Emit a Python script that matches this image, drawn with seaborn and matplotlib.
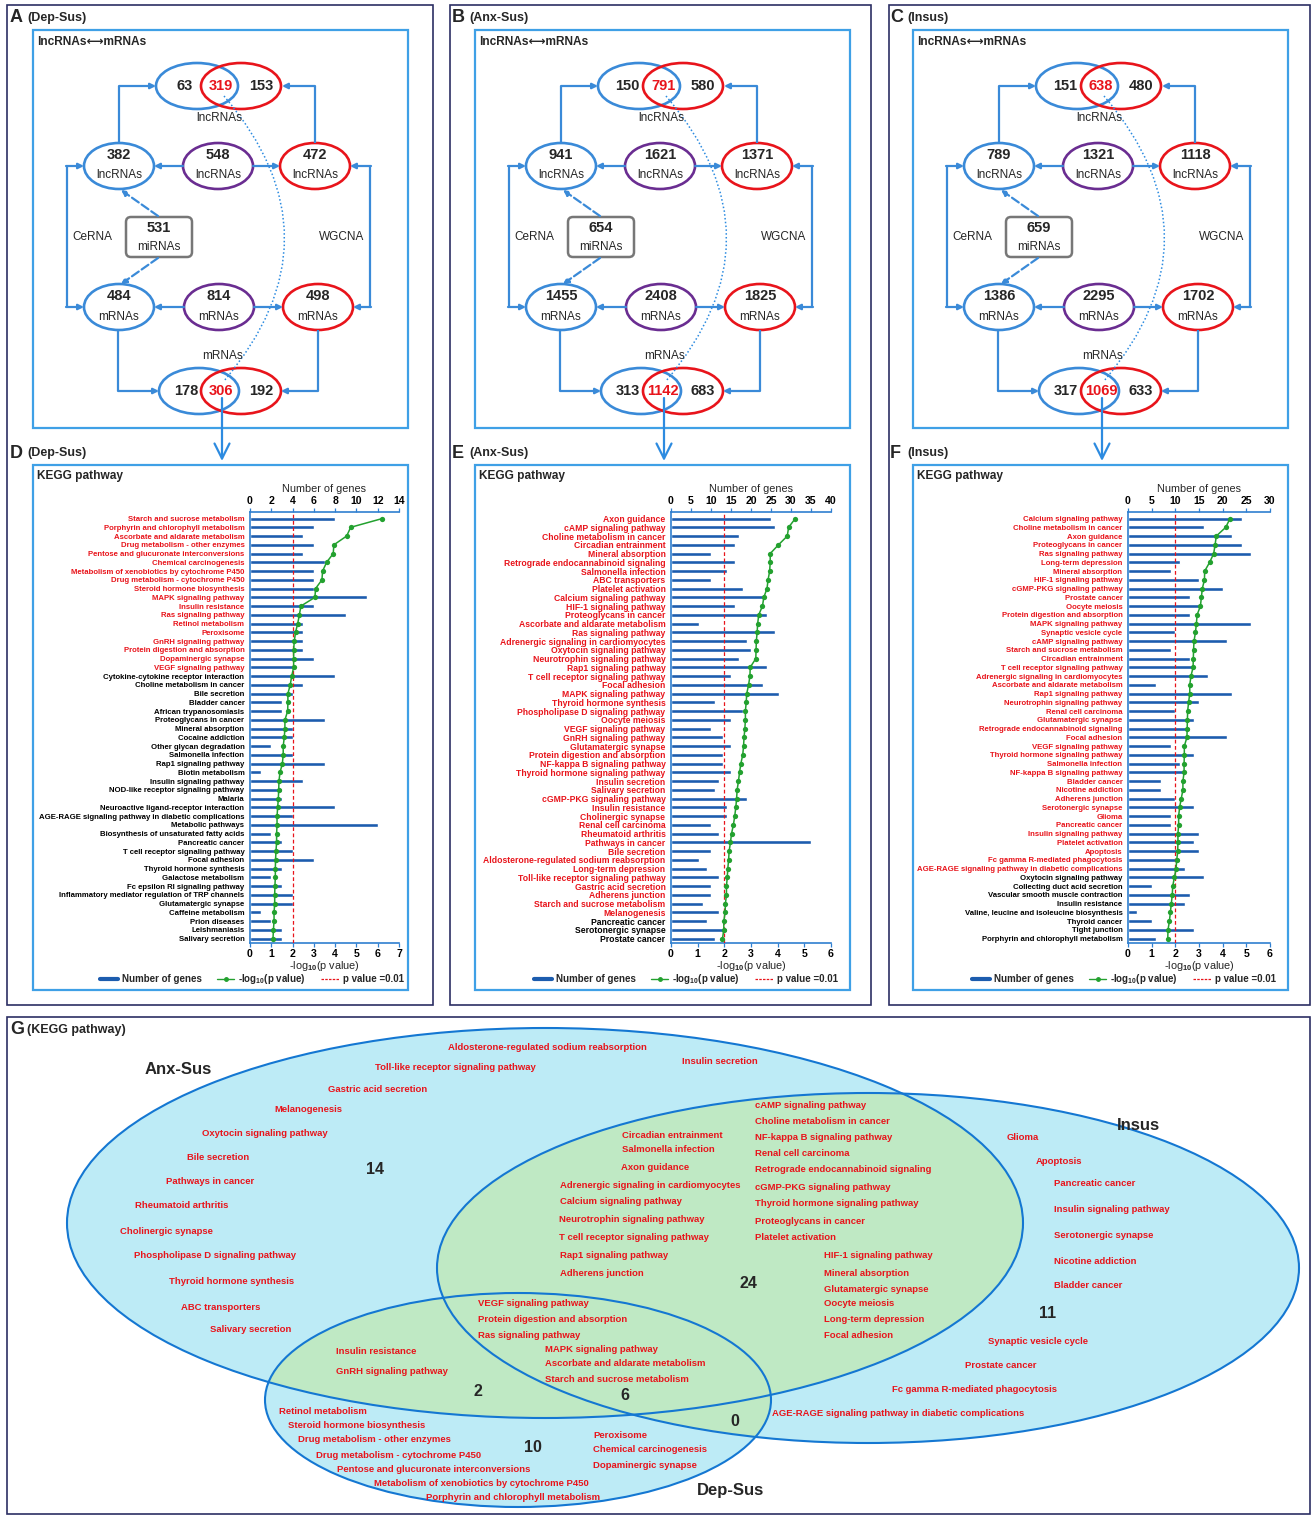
import numpy as np
import pandas as pd
import matplotlib
matplotlib.use("Agg")
import matplotlib.pyplot as plt
import seaborn as sns
from matplotlib.patches import Ellipse, Rectangle, FancyBboxPatch, PathPatch
from matplotlib.path import Path
from matplotlib.lines import Line2D

# ---------------------------------------------------------------- data
net_A = [63, 319, 153, 382, 548, 472, 531, 484, 814, 498, 178, 306, 192]
net_B = [150, 791, 580, 941, 1621, 1371, 654, 1455, 2408, 1825, 313, 1142, 683]
net_C = [151, 638, 480, 789, 1321, 1118, 659, 1386, 2295, 1702, 317, 1069, 633]

d_terms = ["Starch and sucrose metabolism", "Porphyrin and chlorophyll metabolism",
           "Ascorbate and aldarate metabolism", "Drug metabolism - other enzymes",
           "Pentose and glucuronate interconversions", "Chemical carcinogenesis",
           "Metabolism of xenobiotics by cytochrome P450", "Drug metabolism - cytochrome P450",
           "Steroid hormone biosynthesis", "MAPK signaling pathway", "Insulin resistance",
           "Ras signaling pathway", "Retinol metabolism", "Peroxisome", "GnRH signaling pathway",
           "Protein digestion and absorption", "Dopaminergic synapse", "VEGF signaling pathway",
           "Cytokine-cytokine receptor interaction", "Choline metabolism in cancer",
           "Bile secretion", "Bladder cancer", "African trypanosomiasis", "Proteoglycans in cancer",
           "Mineral absorption", "Cocaine addiction", "Other glycan degradation",
           "Salmonella infection", "Rap1 signaling pathway", "Biotin metabolism",
           "Insulin signaling pathway", "NOD-like receptor signaling pathway", "Malaria",
           "Neuroactive ligand-receptor interaction",
           "AGE-RAGE signaling pathway in diabetic complications", "Metabolic pathways",
           "Biosynthesis of unsaturated fatty acids", "Pancreatic cancer",
           "T cell receptor signaling pathway", "Focal adhesion", "Thyroid hormone synthesis",
           "Galactose metabolism", "Fc epsilon RI signaling pathway",
           "Inflammatory mediator regulation of TRP channels", "Glutamatergic synapse",
           "Caffeine metabolism", "Prion diseases", "Leishmaniasis", "Salivary secretion"]
d_genes = [8, 6, 5, 6, 5, 7, 6, 6, 6, 11, 6, 9, 5, 5, 5, 5, 6, 4, 8, 5, 4, 3, 3, 7, 4,
           4, 2, 4, 7, 1, 5, 3, 3, 8, 4, 12, 2, 3, 4, 6, 3, 2, 3, 4, 4, 1, 2, 3, 3]
d_logp = [6.21, 4.73, 4.54, 3.94, 3.91, 3.60, 3.41, 3.38, 3.08, 3.05,
          2.39, 2.32, 2.24, 2.14, 2.08, 2.05, 2.05, 2.05, 1.96, 1.89,
          1.78, 1.78, 1.77, 1.64, 1.64, 1.61, 1.56, 1.56, 1.52, 1.41,
          1.36, 1.35, 1.33, 1.30, 1.27, 1.27, 1.25, 1.25, 1.22, 1.20,
          1.19, 1.19, 1.17, 1.16, 1.16, 1.13, 1.13, 1.10, 1.08]
d_n_red = 18

e_terms = ["Axon guidance", "cAMP signaling pathway", "Choline metabolism in cancer",
           "Circadian entrainment", "Mineral absorption", "Retrograde endocannabinoid signaling",
           "Salmonella infection", "ABC transporters", "Platelet activation",
           "Calcium signaling pathway", "HIF-1 signaling pathway", "Proteoglycans in cancer",
           "Ascorbate and aldarate metabolism", "Ras signaling pathway",
           "Adrenergic signaling in cardiomyocytes", "Oxytocin signaling pathway",
           "Neurotrophin signaling pathway", "Rap1 signaling pathway",
           "T cell receptor signaling pathway", "Focal adhesion", "MAPK signaling pathway",
           "Thyroid hormone synthesis", "Phospholipase D signaling pathway", "Oocyte meiosis",
           "VEGF signaling pathway", "GnRH signaling pathway", "Glutamatergic synapse",
           "Protein digestion and absorption", "NF-kappa B signaling pathway",
           "Thyroid hormone signaling pathway", "Insulin secretion", "Salivary secretion",
           "cGMP-PKG signaling pathway", "Insulin resistance", "Cholinergic synapse",
           "Renal cell carcinoma", "Rheumatoid arthritis", "Pathways in cancer", "Bile secretion",
           "Aldosterone-regulated sodium reabsorption", "Long-term depression",
           "Toll-like receptor signaling pathway", "Gastric acid secretion", "Adherens junction",
           "Starch and sucrose metabolism", "Melanogenesis", "Pancreatic cancer",
           "Serotonergic synapse", "Prostate cancer"]
e_genes = [25, 26, 17, 16, 10, 16, 14, 10, 18, 23, 16, 24, 7, 26, 19, 20, 17, 24, 15, 23,
           27, 11, 18, 15, 10, 13, 15, 13, 13, 15, 12, 11, 19, 14, 14, 10, 12, 35, 10, 7,
           9, 12, 10, 10, 8, 12, 9, 14, 11]
e_logp = [4.66, 4.41, 4.36, 4.03, 3.72, 3.72, 3.70, 3.64, 3.60, 3.48,
          3.43, 3.29, 3.25, 3.23, 3.20, 3.19, 3.18, 2.97, 2.96, 2.91,
          2.84, 2.82, 2.79, 2.79, 2.77, 2.74, 2.72, 2.69, 2.62, 2.57,
          2.53, 2.48, 2.46, 2.43, 2.39, 2.34, 2.27, 2.23, 2.18, 2.16,
          2.13, 2.11, 2.08, 2.08, 2.04, 2.03, 1.98, 1.98, 1.93]
e_n_red = 46

f_terms = ["Calcium signaling pathway", "Choline metabolism in cancer", "Axon guidance",
           "Proteoglycans in cancer", "Ras signaling pathway", "Long-term depression",
           "Mineral absorption", "HIF-1 signaling pathway", "cGMP-PKG signaling pathway",
           "Prostate cancer", "Oocyte meiosis", "Protein digestion and absorption",
           "MAPK signaling pathway", "Synaptic vesicle cycle", "cAMP signaling pathway",
           "Starch and sucrose metabolism", "Circadian entrainment",
           "T cell receptor signaling pathway", "Adrenergic signaling in cardiomyocytes",
           "Ascorbate and aldarate metabolism", "Rap1 signaling pathway",
           "Neurotrophin signaling pathway", "Renal cell carcinoma", "Glutamatergic synapse",
           "Retrograde endocannabinoid signaling", "Focal adhesion", "VEGF signaling pathway",
           "Thyroid hormone signaling pathway", "Salmonella infection",
           "NF-kappa B signaling pathway", "Bladder cancer", "Nicotine addiction",
           "Adherens junction", "Serotonergic synapse", "Glioma", "Pancreatic cancer",
           "Insulin signaling pathway", "Platelet activation", "Apoptosis",
           "Fc gamma R-mediated phagocytosis",
           "AGE-RAGE signaling pathway in diabetic complications", "Oxytocin signaling pathway",
           "Collecting duct acid secretion", "Vascular smooth muscle contraction",
           "Insulin resistance", "Valine, leucine and isoleucine biosynthesis", "Thyroid cancer",
           "Tight junction", "Porphyrin and chlorophyll metabolism"]
f_genes = [24, 16, 22, 24, 26, 11, 9, 15, 20, 13, 15, 13, 26, 10, 21, 9, 13, 14, 17, 6,
           22, 15, 10, 14, 13, 21, 9, 14, 11, 12, 7, 7, 10, 14, 9, 9, 15, 14, 15, 11,
           12, 16, 5, 13, 12, 2, 5, 14, 6]
f_logp = [4.31, 4.13, 3.73, 3.68, 3.62, 3.45, 3.24, 3.23, 3.14, 3.10,
          3.06, 2.92, 2.89, 2.85, 2.79, 2.77, 2.76, 2.75, 2.66, 2.61,
          2.61, 2.56, 2.52, 2.51, 2.50, 2.49, 2.38, 2.38, 2.37, 2.37,
          2.32, 2.32, 2.25, 2.18, 2.14, 2.14, 2.11, 2.11, 2.10, 2.06,
          2.03, 1.96, 1.89, 1.87, 1.83, 1.79, 1.75, 1.69, 1.68]
f_n_red = 41

venn_anx_only = ["Aldosterone-regulated sodium reabsorption", "Toll-like receptor signaling pathway",
                 "Gastric acid secretion", "Melanogenesis", "Oxytocin signaling pathway",
                 "Bile secretion", "Pathways in cancer", "Rheumatoid arthritis",
                 "Cholinergic synapse", "Phospholipase D signaling pathway",
                 "Thyroid hormone synthesis", "ABC transporters", "Salivary secretion",
                 "Insulin secretion"]
venn_anx_ins = ["Circadian entrainment", "Salmonella infection", "Axon guidance",
                "Adrenergic signaling in cardiomyocytes", "Calcium signaling pathway",
                "Neurotrophin signaling pathway", "T cell receptor signaling pathway",
                "Rap1 signaling pathway", "Adherens junction",
                "cAMP signaling pathway", "Choline metabolism in cancer",
                "NF-kappa B signaling pathway", "Renal cell carcinoma",
                "Retrograde endocannabinoid signaling", "cGMP-PKG signaling pathway",
                "Thyroid hormone signaling pathway", "Proteoglycans in cancer",
                "Platelet activation",
                "HIF-1 signaling pathway", "Mineral absorption", "Glutamatergic synapse",
                "Oocyte meiosis", "Long-term depression", "Focal adhesion"]
venn_all = ["VEGF signaling pathway", "Protein digestion and absorption", "Ras signaling pathway",
            "MAPK signaling pathway", "Ascorbate and aldarate metabolism",
            "Starch and sucrose metabolism"]
venn_anx_dep = ["Insulin resistance", "GnRH signaling pathway"]
venn_dep_only = ["Retinol metabolism", "Steroid hormone biosynthesis",
                 "Drug metabolism - other enzymes", "Drug metabolism - cytochrome P450",
                 "Pentose and glucuronate interconversions",
                 "Metabolism of xenobiotics by cytochrome P450",
                 "Porphyrin and chlorophyll metabolism", "Peroxisome",
                 "Chemical carcinogenesis", "Dopaminergic synapse"]
venn_ins_only = ["Glioma", "Apoptosis", "Pancreatic cancer", "Insulin signaling pathway",
                 "Serotonergic synapse", "Nicotine addiction", "Bladder cancer",
                 "Synaptic vesicle cycle", "Prostate cancer", "Fc gamma R-mediated phagocytosis",
                 "AGE-RAGE signaling pathway in diabetic complications"]
venn_counts = {"anx": 14, "anx_ins": 24, "ins": 11, "anx_dep": 2, "all": 6, "dep_ins": 0, "dep": 10}

# ---------------------------------------------------------------- layout
anx_pos = [(448, 1047), (375, 1068), (328, 1089), (274, 1110), (202, 1133), (187, 1157),
           (166, 1181), (135, 1206), (120, 1231), (134, 1255), (169, 1282), (181, 1307),
           (210, 1330), (682, 1061)]
anx_ins_pos = [(622, 1135), (622, 1150), (621, 1168), (560, 1186), (560, 1202), (559, 1220),
               (559, 1238), (560, 1256), (560, 1273),
               (755, 1105), (755, 1121), (755, 1138), (755, 1154), (755, 1170), (755, 1187),
               (755, 1203), (755, 1221), (755, 1238),
               (824, 1256), (824, 1273), (824, 1289), (824, 1304), (824, 1320), (824, 1335)]
all_pos = [(478, 1303), (478, 1319), (478, 1335), (545, 1350), (545, 1364), (545, 1379)]
anx_dep_pos = [(336, 1351), (336, 1371)]
dep_pos = [(279, 1411), (288, 1426), (298, 1440), (316, 1455), (337, 1469), (374, 1483),
           (426, 1497), (593, 1435), (593, 1450), (593, 1465)]
ins_pos = [(1007, 1137), (1036, 1161), (1054, 1183), (1054, 1210), (1054, 1235),
           (1054, 1261), (1054, 1285), (988, 1341), (965, 1366), (892, 1389), (772, 1414)]
count_pos = {"anx": (375, 1170), "anx_ins": (748, 1283), "ins": (1048, 1314),
             "anx_dep": (478, 1392), "all": (625, 1396), "dep_ins": (735, 1422), "dep": (533, 1447)}

W, H = 1312, 1516
sns.set_theme(style="white")
plt.rcParams["font.family"] = ["Liberation Sans", "DejaVu Sans"]
plt.rcParams["font.weight"] = "bold"
plt.rcParams["mathtext.fontset"] = "custom"
plt.rcParams["mathtext.rm"] = "Liberation Sans:bold"
plt.rcParams["mathtext.default"] = "rm"

BLUE = "#3a8ad8"
NAVY = "#2c2f63"
RED = "#e8141b"
PURPLE = "#6a2d91"
BAR = "#1c5cae"
GREEN = "#23a12f"
AXB = "#2f7fd0"

fig = plt.figure(figsize=(W / 100, H / 100), dpi=100)
fig.patch.set_facecolor("white")
bg = fig.add_axes([0, 0, 1, 1])
bg.set_xlim(0, W)
bg.set_ylim(H, 0)
bg.axis("off")


def box(x0, y0, x1, y1, color, lw):
    bg.add_patch(Rectangle((x0, y0), x1 - x0, y1 - y0, fill=False, ec=color, lw=lw))


def arrow(p0, p1, ls="-", style="-|>", ms=8, lw=1.6):
    bg.annotate("", xy=p1, xytext=p0,
                arrowprops=dict(arrowstyle=style, color=BLUE, lw=lw, ls=ls,
                                mutation_scale=ms, shrinkA=0, shrinkB=0))


def line(pts):
    xs, ys = zip(*pts)
    bg.plot(xs, ys, color=BLUE, lw=1.6, solid_capstyle="butt")


# outer frames
for x0, x1 in [(7, 433), (450, 871), (889, 1310)]:
    box(x0, 5, x1, 1005, NAVY, 1.2)
box(7, 1017, 1310, 1514, NAVY, 1.2)

panels = [("A", "(Dep-Sus)", "D", 0, net_A), ("B", "(Anx-Sus)", "E", 442, net_B),
          ("C", "(Insus)", "F", 880, net_C)]


def network(ox, v):
    X = lambda x: x + ox
    box(X(33), 30, X(408), 428, "#3fa0e6", 1.6)
    box(X(33), 465, X(408), 990, "#3fa0e6", 1.6)
    bg.text(X(37), 42, "lncRNAs\u27f7mRNAs", fontsize=8.6, va="center", ha="left")
    bg.text(X(37), 476, "KEGG pathway", fontsize=8.6, va="center", ha="left")
    ek = dict(fill=False, lw=1.9)
    # top venn
    bg.add_patch(Ellipse((X(197), 86), 82, 46, ec=BLUE, **ek))
    bg.add_patch(Ellipse((X(241), 86), 80, 46, ec=RED, **ek))
    # row ellipses
    for cx, cy, col in [(119, 166, BLUE), (218, 166, PURPLE), (315, 166, RED),
                        (119, 307, BLUE), (219, 307, PURPLE), (318, 307, RED)]:
        bg.add_patch(Ellipse((X(cx), cy), 70, 46, ec=col, **ek))
    # bottom venn
    bg.add_patch(Ellipse((X(199), 391), 80, 46, ec=BLUE, **ek))
    bg.add_patch(Ellipse((X(241), 391), 80, 46, ec=RED, **ek))
    # miRNA box
    bg.add_patch(FancyBboxPatch((X(126), 217), 66, 40, boxstyle="round,pad=0,rounding_size=5",
                                fc="white", ec="#777777", lw=1.8))
    # connectors
    line([(X(119), 143), (X(119), 86)]); arrow((X(119), 86), (X(156), 86))
    line([(X(315), 143), (X(315), 86)]); arrow((X(315), 86), (X(282), 86))
    arrow((X(183), 166), (X(154), 166)); arrow((X(253), 166), (X(280), 166))
    arrow((X(184), 307), (X(154), 307)); arrow((X(254), 307), (X(283), 307))
    line([(X(67), 166), (X(67), 307)])
    arrow((X(66), 166), (X(84), 166)); arrow((X(66), 307), (X(84), 307))
    line([(X(370), 166), (X(370), 307)])
    arrow((X(371), 166), (X(350), 166)); arrow((X(371), 307), (X(353), 307))
    line([(X(118), 330), (X(118), 391)]); arrow((X(118), 391), (X(159), 391))
    line([(X(318), 330), (X(318), 391)]); arrow((X(318), 391), (X(281), 391))
    arrow((X(158), 216), (X(121), 190), ls="--")
    arrow((X(158), 258), (X(121), 284), ls="--")
    # dotted arc
    path = Path([(X(224), 96), (X(345), 238), (X(224), 381)],
                [Path.MOVETO, Path.CURVE3, Path.CURVE3])
    bg.add_patch(PathPatch(path, fill=False, ec="#2c8be0", lw=1.1, ls=(0, (1, 1.5))))
    # down arrow to KEGG
    bg.annotate("", xy=(X(222), 461), xytext=(X(222), 398),
                arrowprops=dict(arrowstyle="->,head_length=0.9,head_width=0.45", color="#2d8be0",
                                lw=1.6, shrinkA=0, shrinkB=0))
    nk = dict(fontsize=10.5, ha="center", va="center")
    lk = dict(fontsize=8.5, ha="center", va="center", fontweight="normal")
    bg.text(X(185), 86, str(v[0]), **nk)
    bg.text(X(221), 86, str(v[1]), color=RED, **nk)
    bg.text(X(261), 86, str(v[2]), **nk)
    bg.text(X(219), 118, "lncRNAs", **lk)
    for i, cx in enumerate([119, 218, 315]):
        bg.text(X(cx), 155, str(v[3 + i]), **nk)
        bg.text(X(cx), 175, "lncRNAs", **lk)
    bg.text(X(159), 228, str(v[6]), **nk)
    bg.text(X(159), 247, "miRNAs", **lk)
    bg.text(X(92), 237, "CeRNA", **lk)
    bg.text(X(342), 237, "WGCNA", **lk)
    for i, cx in enumerate([119, 219, 318]):
        bg.text(X(cx), 296, str(v[7 + i]), **nk)
        bg.text(X(cx), 317, "mRNAs", **lk)
    bg.text(X(223), 356, "mRNAs", **lk)
    bg.text(X(186), 391, str(v[10]), **nk)
    bg.text(X(221), 391, str(v[11]), color=RED, **nk)
    bg.text(X(261), 391, str(v[12]), **nk)


for letter, tag, letter2, ox, vals in panels:
    network(ox, vals)
    bg.text(10 + ox, 18, letter, fontsize=13, va="center", ha="left")
    bg.text(27 + ox, 18, tag, fontsize=9, va="center", ha="left")
    bg.text(10 + ox, 453, letter2, fontsize=13, va="center", ha="left")
    bg.text(27 + ox, 453, tag, fontsize=9, va="center", ha="left")


def kegg(x0, x1, terms, genes, logp, n_red, gmax, gstep, pmax, leg_cx, lsize):
    y0, y1 = 512, 943
    axl = fig.add_axes([x0 / W, 1 - y1 / H, (x1 - x0) / W, (y1 - y0) / H])
    axb = axl.twiny()
    df = pd.DataFrame({"term": terms, "genes": genes})
    sns.barplot(data=df, x="genes", y="term", ax=axb, orient="h", color=BAR,
                saturation=1, width=0.45, errorbar=None)
    n = len(terms)
    axl.axvline(2, color=RED, ls=(0, (3, 2)), lw=0.9, zorder=3)
    sns.lineplot(x=logp, y=np.arange(n), ax=axl, orient="y", sort=False, color=GREEN,
                 marker="o", markersize=3.8, markeredgewidth=0, linewidth=1.1, zorder=4)
    axl.set_zorder(axb.get_zorder() + 1)
    axl.patch.set_visible(False)
    axb.patch.set_visible(False)
    axl.set_ylim(n - 0.5, -0.75)
    axl.set_xlim(0, pmax)
    axb.set_xlim(0, gmax)
    axl.set_xticks(range(0, pmax + 1))
    axb.set_xticks(np.arange(0, gmax + 1, gstep))
    axl.set_yticks(range(n))
    axl.set_yticklabels(terms)
    for a in (axl, axb):
        for lab in a.get_xticklabels():
            lab.set_fontsize(7.6)
        a.tick_params(axis="x", colors=AXB, labelcolor="black", length=3, width=0.9, pad=1)
    axl.tick_params(axis="y", colors=AXB, labelcolor="black", length=2.5, width=0.8, pad=1.5)
    for i, lab in enumerate(axl.get_yticklabels()):
        lab.set_color(RED if i < n_red else "black")
        lab.set_fontsize(lsize)
    for s in ["top", "right"]:
        axl.spines[s].set_visible(False)
    for s in ["bottom", "left", "right"]:
        axb.spines[s].set_visible(False)
    axl.spines["left"].set_color(AXB)
    axl.spines["bottom"].set_color(AXB)
    axb.spines["top"].set_color(AXB)
    for sp in (axl.spines["left"], axl.spines["bottom"], axb.spines["top"]):
        sp.set_linewidth(1.2)
    axl.set_ylabel("")
    axb.set_ylabel("")
    axb.set_xlabel("Number of genes", fontsize=7.8, labelpad=3)
    axl.set_xlabel("-log$_{10}$(p value)", fontsize=7.8, labelpad=0)
    axl.grid(False)
    axb.grid(False)
    handles = [Line2D([], [], color=BAR, lw=3),
               Line2D([], [], color=GREEN, lw=1, marker="o", markersize=2.5),
               Line2D([], [], color=RED, lw=0.9, ls=(0, (2, 1)))]
    fig.legend(handles, ["Number of genes", "-log$_{10}$(p value)", "p value =0.01"],
               loc="center", bbox_to_anchor=(leg_cx / W, 1 - 979 / H), ncol=3, frameon=False,
               fontsize=7, handlelength=1.8, columnspacing=1.6, handletextpad=0.4)


kegg(250, 399, d_terms, d_genes, d_logp, d_n_red, 14, 2, 7, 252, 5.6)
kegg(671, 831, e_terms, e_genes, e_logp, e_n_red, 40, 5, 6, 686, 6.2)
kegg(1128, 1270, f_terms, f_genes, f_logp, f_n_red, 30, 5, 6, 1124, 5.6)

# ---------------------------------------------------------------- panel G (Venn)
bg.text(10, 1030, "G", fontsize=13, va="center", ha="left")
bg.text(27, 1030, "(KEGG pathway)", fontsize=9, va="center", ha="left")
LB = "#bdebf6"
LG = "#bfe9c4"
EB = "#1477d2"
shapes = {"anx": ((545, 1223), 956, 390), "ins": ((868, 1268), 862, 350),
          "dep": ((518, 1400), 506, 214)}
base = {}
for k, (c, w, h) in shapes.items():
    base[k] = bg.add_patch(Ellipse(c, w, h, fc=LB, ec="none", zorder=1))
for k, clip in [("ins", "anx"), ("dep", "anx"), ("dep", "ins")]:
    c, w, h = shapes[k]
    g = bg.add_patch(Ellipse(c, w, h, fc=LG, ec="none", zorder=1.5))
    g.set_clip_path(base[clip])
for k, (c, w, h) in shapes.items():
    bg.add_patch(Ellipse(c, w, h, fill=False, ec=EB, lw=1.5, zorder=2))

for names, pos in [(venn_anx_only, anx_pos), (venn_anx_ins, anx_ins_pos), (venn_all, all_pos),
                   (venn_anx_dep, anx_dep_pos), (venn_dep_only, dep_pos),
                   (venn_ins_only, ins_pos)]:
    for name, (x, y) in zip(names, pos):
        bg.text(x, y, name, color=RED, fontsize=6.8, ha="left", va="center", zorder=3)
for k, (x, y) in count_pos.items():
    bg.text(x, y, str(venn_counts[k]), fontsize=11.5, ha="center", va="center", zorder=3)
bg.text(178, 1069, "Anx-Sus", fontsize=12, ha="center", va="center", zorder=3)
bg.text(1138, 1126, "Insus", fontsize=12, ha="center", va="center", zorder=3)
bg.text(730, 1490, "Dep-Sus", fontsize=12, ha="center", va="center", zorder=3)

fig.savefig("out.png", dpi=100, facecolor="white")
